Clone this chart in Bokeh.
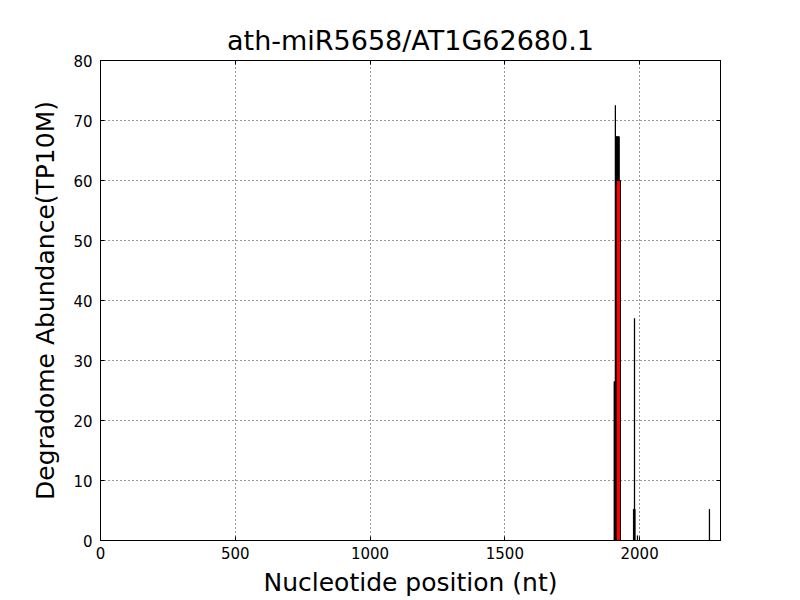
from bokeh.plotting import figure
from bokeh.models import LinearAxis, FixedTicker, Range1d
from bokeh.embed import file_html
from bokeh.resources import INLINE

# black degradome signal
pos_black = [1906, 1910, 1918, 1981, 1980, 1992, 2259]
val_black = [26.5, 72.5, 67.3, 37.0, 5.2, 0.8, 5.2]
wid_black = [1, 1, 13, 1, 6, 1, 1]
# red (target site)
pos_red = [1921]
val_red = [60.0]

x_ticks = [0, 500, 1000, 1500, 2000]
y_ticks = [0, 10, 20, 30, 40, 50, 60, 70, 80]

p = figure(width=792, height=600, output_backend="svg", toolbar_location=None,
           x_range=Range1d(0, 2300), y_range=Range1d(0, 80),
           min_border_left=100, min_border_right=72, min_border_top=60, min_border_bottom=60,
           title="ath-miR5658/AT1G62680.1")
p.title.align = "center"
p.title.text_font = "DejaVu Sans"
p.title.text_font_size = "27px"
p.title.text_font_style = "normal"
p.title.text_color = "black"
p.title.offset = 30

p.vbar(x=pos_black, top=val_black, width=wid_black, bottom=0, fill_color="black",
       line_color="black", line_width=1)
p.vbar(x=pos_red, top=val_red, width=16, bottom=0, fill_color="red",
       line_color="black", line_width=1)

p.outline_line_color = "black"
p.outline_line_width = 1
p.background_fill_color = "white"
p.border_fill_color = "white"

for ax in [p.xaxis[0], p.yaxis[0]]:
    ax.major_tick_in = 4
    ax.major_tick_out = 0
    ax.minor_tick_line_color = None
    ax.major_label_text_font = "DejaVu Sans"
    ax.major_label_text_font_size = "15px"
    ax.major_label_text_color = "black"
    ax.axis_label_text_font = "DejaVu Sans"
    ax.axis_label_text_font_size = "25px"
    ax.axis_label_text_font_style = "normal"
    ax.axis_label_text_color = "black"
    ax.axis_line_color = "black"

p.xaxis.ticker = FixedTicker(ticks=x_ticks)
p.yaxis.ticker = FixedTicker(ticks=y_ticks)
p.xaxis.axis_label = "Nucleotide position (nt)"
p.yaxis.axis_label = "Degradome Abundance(TP10M)"
p.xaxis.axis_label_standoff = 6
p.yaxis.axis_label_standoff = 10
p.xaxis.major_label_standoff = 6
p.yaxis.major_label_standoff = 8

top_ax = LinearAxis(ticker=FixedTicker(ticks=x_ticks),
                    major_label_overrides={t: "" for t in x_ticks},
                    major_tick_in=4, major_tick_out=0, minor_tick_line_color=None)
right_ax = LinearAxis(ticker=FixedTicker(ticks=y_ticks),
                      major_label_overrides={t: "" for t in y_ticks},
                      major_tick_in=4, major_tick_out=0, minor_tick_line_color=None)
p.add_layout(top_ax, "above")
p.add_layout(right_ax, "right")

p.xgrid.ticker = FixedTicker(ticks=x_ticks)
p.ygrid.ticker = FixedTicker(ticks=y_ticks)
for g in [p.xgrid[0], p.ygrid[0]]:
    g.grid_line_color = "black"
    g.grid_line_dash = "1 3"
    g.grid_line_width = 1
    g.grid_line_alpha = 0.8

open("out.html", "w").write(file_html(p, INLINE))
